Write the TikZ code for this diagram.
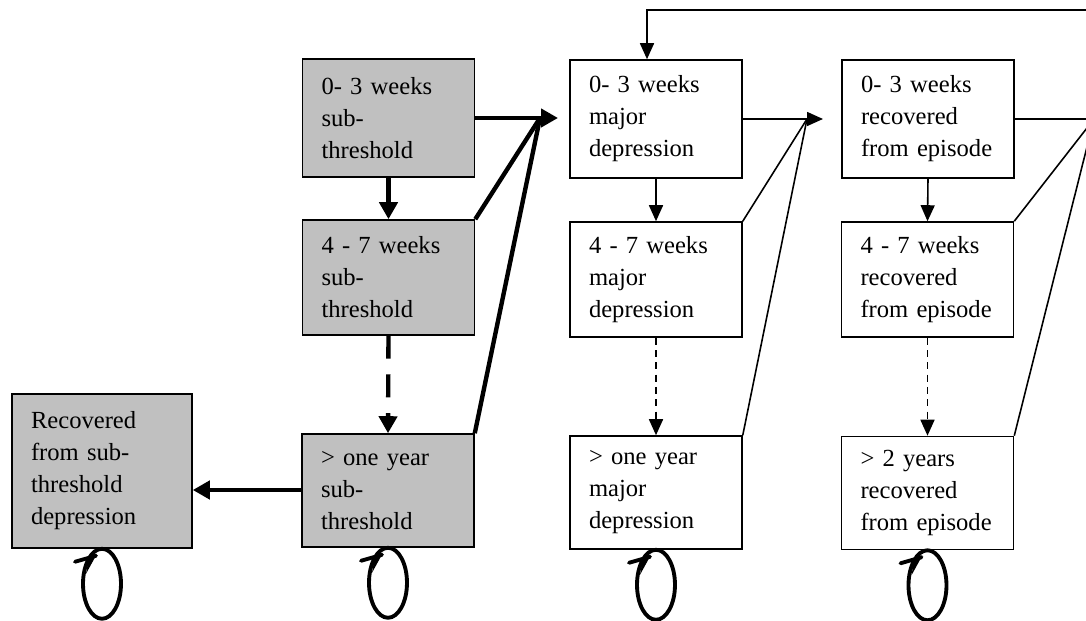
\documentclass[tikz,border=0pt]{standalone}
\usepackage{fontspec}
\setmainfont{Liberation Serif}
\usetikzlibrary{arrows.meta,calc}
\definecolor{boxgray}{HTML}{C0C0C0}
\begin{document}
\begin{tikzpicture}[x=0.02cm,y=-0.02cm,
  box/.style={draw=black, line width=0.9pt, minimum width=3.44cm, text width=2.68cm,
    inner xsep=0.38cm, inner ysep=0pt, align=left, font=\fontsize{14}{18.2}\selectfont},
  gbox/.style={box, fill=boxgray},
  rowa/.style={minimum height=2.36cm},
  rowb/.style={minimum height=2.3cm},
  rowc/.style={minimum height=2.26cm},
  thickline/.style={line width=2.5pt},
  thinline/.style={line width=0.9pt},
  thickarrow/.style={thickline, -{Triangle[length=0.34cm,width=0.36cm]}},
  thinarrow/.style={thinline, -{Triangle[length=0.32cm,width=0.28cm]}},
  thickdash/.style={dash pattern=on 13pt off 9pt},
  thindash/.style={dash pattern=on 4pt off 3pt},
  loopline/.style={line width=2.2pt}
]
\useasboundingbox (0,0) rectangle (1086,621);
\clip (0,0) rectangle (1086,621);

% boxes
\node[gbox,rowa] (G1) at (388.5,118) {0- 3 weeks\\sub-\\threshold};
\node[gbox,rowb] (G2) at (388.5,277.5) {4 - 7 weeks\\sub-\\threshold};
\node[gbox,rowc] (G3) at (388,490.5) {> one year\\sub-\\threshold};
\node[gbox,minimum width=3.6cm,text width=2.84cm,minimum height=3.08cm] (R) at (102,471) {Recovered\\from sub-\\threshold\\depression};

\node[box,rowa] (M1) at (656,119) {0- 3 weeks\\major\\depression};
\node[box,rowb] (M2) at (656,279.5) {4 - 7 weeks\\major\\depression};
\node[box,rowc] (M3) at (656,492.5) {> one year\\major\\depression};

\node[box,rowa] (E1) at (928,119) {0- 3 weeks\\recovered\\from episode};
\node[box,rowb] (E2) at (927.5,279.5) {4 - 7 weeks\\recovered\\from episode};
\node[box,rowc] (E3) at (927.5,493) {> 2 years\\recovered\\from episode};

% junction coordinates
\coordinate (j1) at (540,118);
\coordinate (a1) at (558,118);
\coordinate (j2) at (807,119);
\coordinate (a2) at (823,119);
\coordinate (j3) at (1094,119);
\coordinate (top) at (647,10);

% sub-threshold column
\draw[thickarrow] (G1.east |- a1) -- (a1);
\draw[thickline] (G2.north east) -- (j1);
\draw[thickline] (G3.north east) -- (j1);
\draw[thickarrow] (G1.south) -- (G2.north);
\draw[thickarrow,thickdash] (G2.south) -- (G3.north);
\draw[thickarrow] (G3.west |- 0,490) -- (R.east |- 0,490);

% major depression column
\draw[thinarrow] (M1.east) -- (a2);
\draw[thinline] (M2.north east) -- (j2);
\draw[thinline] (M3.north east) -- (j2);
\draw[thinarrow] (M1.south) -- (M2.north);
\draw[thinarrow,thindash] (M2.south) -- (M3.north);

% recovered column
\draw[thinline] (E1.east) -- (j3);
\draw[thinline] (E2.north east) -- (j3);
\draw[thinline] (E3.north east) -- (j3);
\draw[thinarrow] (E1.south) -- (E2.north);
\draw[thinarrow,thindash] (E2.south) -- (E3.north);

% feedback to major depression
\draw[thinarrow] (j3) -- (j3 |- top) -- (top) -- (top |- M1.north);

% self loops
\foreach \n in {R,G3,M3,E3} {
  \draw[loopline] (\n.south) ++(0,35) ellipse [x radius=0.38cm, y radius=0.7cm];
  \draw[loopline,line cap=round] (\n.south) ++(-27,13) -- ++(21,-6);
  \fill (\n.south) ++(-5,5) -- ++(-8,2) -- ++(-3,18) -- cycle;
}
\end{tikzpicture}
\end{document}
